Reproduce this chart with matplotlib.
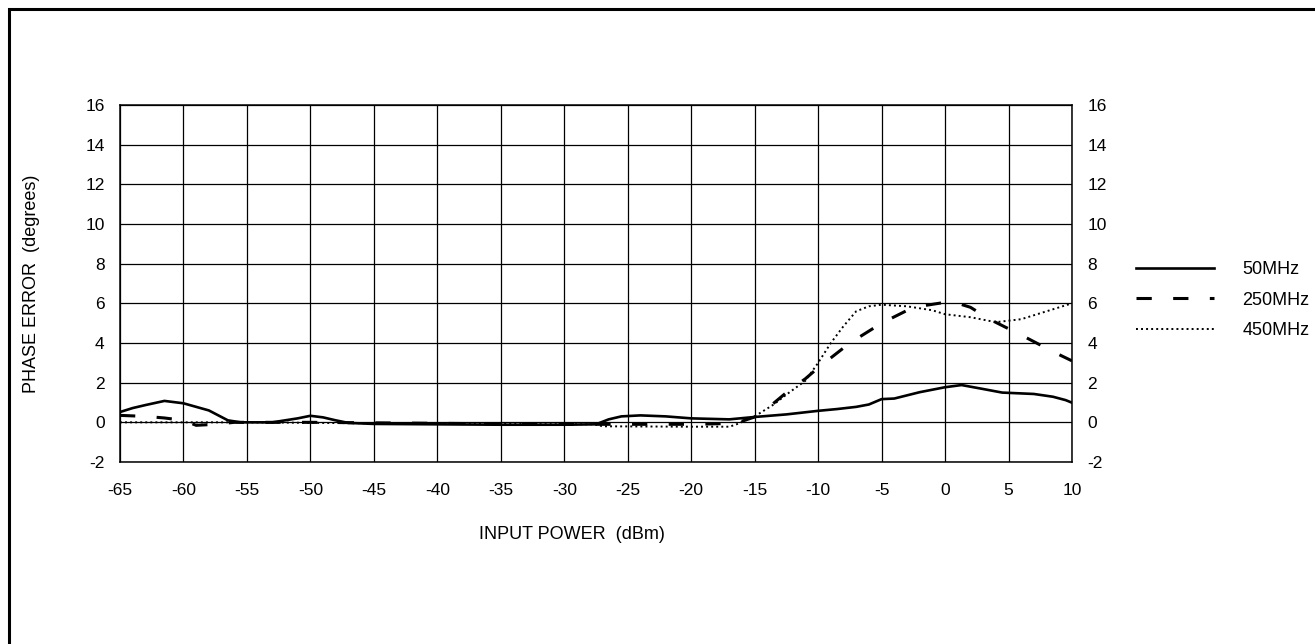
import matplotlib
matplotlib.use('Agg')
import matplotlib.pyplot as plt
from matplotlib.patches import Rectangle

plt.rcParams['font.family'] = ['Liberation Sans', 'DejaVu Sans']
plt.rcParams['axes.unicode_minus'] = False

# 50MHz
x_50 = [-65, -64, -63, -61.5, -60, -58, -56.5, -55.5, -53, -52, -51, -50, -49, -48, -47, -45,
        -40, -35, -30, -27.5, -26.5, -25.5, -24, -22, -20, -17, -15, -12.5, -10, -8.5, -7, -6,
        -5, -4, -2, 0, 1.3, 3, 4.5, 7, 8.5, 9.5, 10]
y_50 = [0.52, 0.72, 0.87, 1.08, 0.96, 0.6, 0.1, 0.0, 0.0, 0.1, 0.2, 0.33, 0.25, 0.1, -0.03, -0.08,
        -0.1, -0.12, -0.12, -0.1, 0.15, 0.3, 0.35, 0.3, 0.2, 0.15, 0.27, 0.4, 0.58, 0.67, 0.78, 0.9,
        1.17, 1.2, 1.52, 1.77, 1.88, 1.68, 1.5, 1.43, 1.29, 1.12, 0.99]

# 250MHz
x_250 = [-65, -63, -61.5, -60, -59, -57.5, -56, -50, -40, -30, -20, -16.5, -15, -14, -12.5, -11,
         -10, -8.5, -7.5, -6, -5, -2.5, 0.5, 2, 3.5, 6, 8.8, 10]
y_250 = [0.35, 0.3, 0.22, 0.1, -0.15, -0.1, 0.0, 0.0, -0.05, -0.1, -0.1, -0.05, 0.27, 0.7, 1.5, 2.2,
         2.75, 3.5, 4.0, 4.6, 5.0, 5.8, 6.1, 5.8, 5.2, 4.4, 3.47, 3.1]

# 450MHz
x_450 = [-65, -55, -45, -35, -27.5, -27, -20, -17, -16.5, -15, -13.5, -12.5, -11, -10, -9, -8,
         -7, -6, -5, -3, -1, 0, 2, 4, 6, 8, 10]
y_450 = [0.0, 0.0, -0.05, -0.08, -0.1, -0.2, -0.22, -0.22, -0.12, 0.3, 0.9, 1.4, 2.1, 3.0, 4.0, 4.85,
         5.6, 5.85, 5.93, 5.85, 5.65, 5.45, 5.3, 5.05, 5.2, 5.6, 6.0]

x_ticks = list(range(-65, 11, 5))
y_ticks = list(range(-2, 17, 2))

fig = plt.figure(figsize=(13.15, 6.44), dpi=100)
ax = fig.add_axes([120 / 1315, 1 - 462 / 644, 952 / 1315, 357 / 644])

# outer frame (only top and left edges fall inside the picture)
fig.add_artist(Rectangle((9 / 1315, -0.1), 1.2, 1.1 - 9 / 644, transform=fig.transFigure,
                         fill=False, edgecolor='black', linewidth=2.2))

l1, = ax.plot(x_50, y_50, color='black', linewidth=1.9, label='50MHz')
l2, = ax.plot(x_250, y_250, color='black', linewidth=2.2, linestyle=(0, (5, 7)), label='250MHz')
l3, = ax.plot(x_450, y_450, color='black', linewidth=1.4, linestyle=(0, (1, 1.6)), label='450MHz')

ax.set_xlim(-65, 10)
ax.set_ylim(-2, 16)
ax.set_xticks(x_ticks)
ax.set_yticks(y_ticks)
ax.grid(True, color='black', linewidth=0.9)
ax.set_axisbelow(True)
for s in ax.spines.values():
    s.set_linewidth(1.1)
ax.tick_params(axis='both', length=0, labelsize=12.5)
ax.tick_params(axis='x', pad=15)
ax.tick_params(axis='y', pad=11, labelright=True)

ax.set_xlabel('INPUT POWER  (dBm)', fontsize=13)
ax.xaxis.set_label_coords(0.475, -0.18)
ax.set_ylabel('PHASE ERROR  (degrees)', fontsize=13)
ax.yaxis.set_label_coords(-0.084, 0.5)

fig.legend(handles=[l1, l2, l3], loc='center left', bbox_to_anchor=(1136 / 1315, 1 - 300 / 644),
           frameon=False, fontsize=13, handlelength=4.3, handletextpad=1.6,
           labelspacing=0.75, borderpad=0, borderaxespad=0)

fig.savefig('out.png', dpi=100)
